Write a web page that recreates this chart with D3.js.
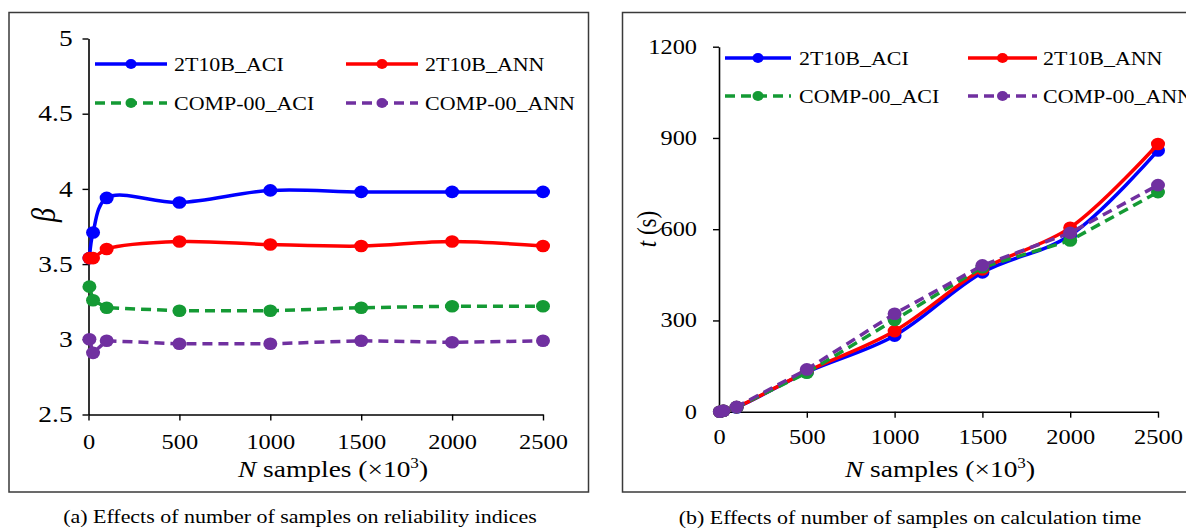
<!DOCTYPE html>
<html>
<head>
<meta charset="utf-8">
<script src="https://cdn.jsdelivr.net/npm/d3@7"></script>
<style>
  html, body { margin: 0; padding: 0; background: #fff; }
  svg { display: block; }
  text { font-family: "Liberation Serif", "Times New Roman", serif; fill: #000; }
</style>
</head>
<body>
<svg id="chart" width="1186" height="528"></svg>
<script>
// Number of samples (x10^3)
const samples = [5, 25, 100, 500, 1000, 1500, 2000, 2500];
const sampleTicks = [0, 500, 1000, 1500, 2000, 2500];

// Reliability index beta
const beta2T10B_ACI = [3.54, 3.71, 3.94, 3.91, 3.99, 3.98, 3.98, 3.98];
const beta2T10B_ANN = [3.54, 3.54, 3.60, 3.65, 3.63, 3.62, 3.65, 3.62];
const betaCOMP_ACI  = [3.35, 3.26, 3.21, 3.19, 3.19, 3.21, 3.22, 3.22];
const betaCOMP_ANN  = [3.00, 2.91, 2.99, 2.97, 2.97, 2.99, 2.98, 2.99];
const betaTicks = [2.5, 3, 3.5, 4, 4.5, 5];

// Calculation time t (s)
const time2T10B_ACI = [0, 3, 14, 130, 250, 458, 580, 859];
const time2T10B_ANN = [0, 3, 15, 132, 265, 468, 605, 880];
const timeCOMP_ACI  = [0, 3, 15, 128, 302, 475, 563, 722];
const timeCOMP_ANN  = [0, 3, 16, 139, 322, 481, 588, 745];
const timeTicks = [0, 300, 600, 900, 1200];

const seriesNames = ["2T10B_ACI", "2T10B_ANN", "COMP-00_ACI", "COMP-00_ANN"];
const seriesColors = ["#0000FF", "#FF0000", "#149A34", "#7030A0"];
const seriesDashed = [false, false, true, true];

const captions = [
  "(a) Effects of number of samples on reliability indices",
  "(b) Effects of number of samples on calculation time"
];

const SX = 1.22;   // horizontal stretch of the typeset text
const svg = d3.select("#chart");

function stretched(parent, x, y, size, anchor) {
  const g = parent.append("g").attr("transform", `translate(${x},${y}) scale(${SX},1)`);
  return g.append("text").attr("font-size", size).attr("text-anchor", anchor || "start");
}

function drawPanel(cfg) {
  const g = svg.append("g");

  // outer frame
  g.append("rect")
    .attr("x", cfg.frame[0]).attr("y", cfg.frame[1])
    .attr("width", cfg.frame[2]).attr("height", cfg.frame[3])
    .attr("fill", "none").attr("stroke", "#3a3a3a").attr("stroke-width", 1.5);

  const x = d3.scaleLinear().domain([0, 2500]).range(cfg.xRange);
  const y = d3.scaleLinear().domain(cfg.yDomain).range(cfg.yRange);

  // axes
  const xAxis = d3.axisBottom(x).tickValues(sampleTicks).tickSize(6).tickSizeOuter(0)
    .tickPadding(cfg.xPad).tickFormat(d3.format("d"));
  const yAxis = d3.axisLeft(y).tickValues(cfg.yTicks).tickSize(6).tickSizeOuter(0)
    .tickPadding(cfg.yPad).tickFormat(d => String(d));

  const gx = g.append("g").attr("transform", `translate(0,${cfg.yRange[0]})`).call(xAxis);
  const gy = g.append("g").attr("transform", `translate(${cfg.xRange[0]},0)`).call(yAxis);
  [gx, gy].forEach(a => {
    a.select(".domain").attr("stroke", "#000").attr("stroke-width", 1.6);
    a.selectAll(".tick line").attr("stroke", "#000").attr("stroke-width", 1.4);
    a.selectAll(".tick text")
      .attr("font-family", "Liberation Serif, Times New Roman, serif")
      .attr("font-size", 20).attr("fill", "#000")
      .attr("transform", `scale(${SX},1)`);
  });
  gy.selectAll(".tick text").attr("font-size", cfg.yTickSize);

  // series
  const smooth = d3.line().x((d, i) => x(samples[i])).y(d => y(d)).curve(d3.curveCatmullRom.alpha(0.5));
  const straight = d3.line().x((d, i) => x(samples[i])).y(d => y(d));

  cfg.series.forEach((vals, s) => {
    const sg = g.append("g");
    sg.append("path")
      .attr("d", (seriesDashed[s] ? straight : smooth)(vals))
      .attr("fill", "none")
      .attr("stroke", seriesColors[s])
      .attr("stroke-width", 3.5)
      .attr("stroke-linejoin", "round")
      .attr("stroke-dasharray", seriesDashed[s] ? "10,6" : null);
    sg.selectAll("ellipse").data(vals).join("ellipse")
      .attr("cx", (d, i) => x(samples[i])).attr("cy", d => y(d))
      .attr("rx", 7).attr("ry", 6.3)
      .attr("fill", seriesColors[s]);
  });

  // legend
  cfg.legend.forEach((pos, s) => {
    const lg = g.append("g");
    lg.append("line")
      .attr("x1", pos[0]).attr("x2", pos[1]).attr("y1", pos[3]).attr("y2", pos[3])
      .attr("stroke", seriesColors[s]).attr("stroke-width", 3.5)
      .attr("stroke-dasharray", seriesDashed[s] ? "10,6" : null);
    lg.append("ellipse")
      .attr("cx", (pos[0] + pos[1]) / 2).attr("cy", pos[3])
      .attr("rx", 5.5).attr("ry", 5).attr("fill", seriesColors[s]);
    stretched(lg, pos[2], pos[3] + 6.5, 18).text(seriesNames[s]);
  });

  // x title
  const xt = stretched(g, cfg.xTitle[0], cfg.xTitle[1], 22.5, "middle");
  xt.append("tspan").attr("font-style", "italic").text("N");
  xt.append("tspan").text(" samples (\u00d710");
  xt.append("tspan").attr("font-size", 14).attr("dy", -9).text("3");
  xt.append("tspan").attr("dy", 9).text(")");

  // y title
  const yg = g.append("g").attr("transform", `translate(${cfg.yTitle[0]},${cfg.yTitle[1]}) rotate(-90) scale(1,${SX})`);
  const yt = yg.append("text").attr("text-anchor", "middle").attr("font-size", cfg.yTitleSize);
  cfg.yTitleParts.forEach(p => yt.append("tspan").attr("font-style", p[1] ? "italic" : null).text(p[0]));

  // caption
  stretched(g, cfg.caption[0], cfg.caption[1], 18, "middle").text(cfg.caption[2]);
}

drawPanel({
  frame: [9, 12.5, 579.5, 479.5],
  xRange: [88.5, 543],
  yDomain: [2.5, 5],
  yRange: [414.5, 38.5],
  yTicks: betaTicks, yTickSize: 22.5,
  xPad: 14, yPad: 7,
  series: [beta2T10B_ACI, beta2T10B_ANN, betaCOMP_ACI, betaCOMP_ANN],
  legend: [[95, 167, 174, 64], [346, 418, 425, 64], [95, 167, 174, 103], [346, 418, 425, 103]],
  xTitle: [333, 477],
  yTitle: [55, 215], yTitleSize: 28, yTitleParts: [["\u03b2", true]],
  caption: [300, 523, captions[0]]
});

drawPanel({
  frame: [622.5, 12.5, 600, 479.5],
  xRange: [719, 1158],
  yDomain: [0, 1200],
  yRange: [411.7, 46.7],
  yTicks: timeTicks, yTickSize: 20,
  xPad: 12, yPad: 12,
  series: [time2T10B_ACI, time2T10B_ANN, timeCOMP_ACI, timeCOMP_ANN],
  legend: [[725, 791, 799, 58], [968, 1037, 1043, 58], [725, 791, 799, 96], [968, 1037, 1043, 96]],
  xTitle: [940, 477],
  yTitle: [656, 229], yTitleSize: 23, yTitleParts: [["t", true], [" (s)", false]],
  caption: [910, 524, captions[1]]
});
</script>
</body>
</html>
